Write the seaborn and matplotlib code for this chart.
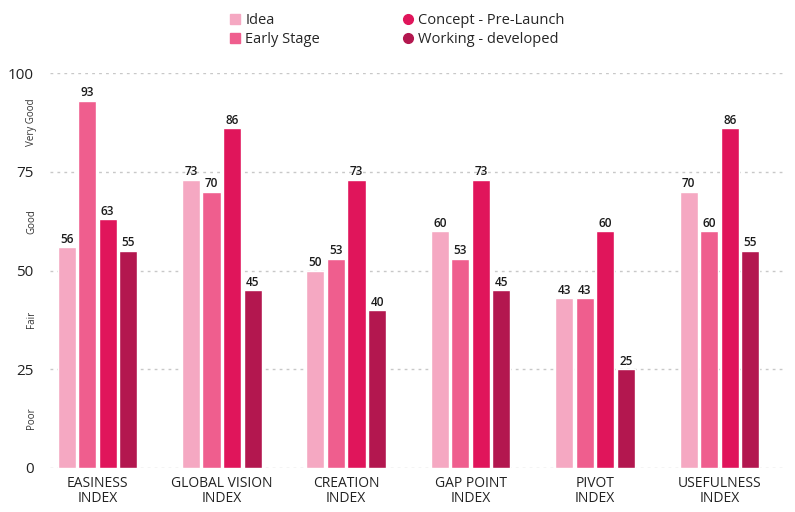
import pandas as pd
import seaborn as sns
import matplotlib.pyplot as plt
from matplotlib.lines import Line2D

categories = ["EASINESS\nINDEX", "GLOBAL VISION\nINDEX", "CREATION\nINDEX",
              "GAP POINT\nINDEX", "PIVOT\nINDEX", "USEFULNESS\nINDEX"]
stages = ["Idea", "Early Stage", "Concept - Pre-Launch", "Working - developed"]
idea = [56, 73, 50, 60, 43, 70]
early_stage = [93, 70, 53, 53, 43, 60]
concept = [63, 86, 73, 73, 60, 86]
working = [55, 45, 40, 45, 25, 55]
ratings = ["Poor", "Fair", "Good", "Very Good"]
colors = ["#F5A8C2", "#EF5E8E", "#E0155B", "#B3174F"]

rows = []
for stage, vals in zip(stages, [idea, early_stage, concept, working]):
    for cat, v in zip(categories, vals):
        rows.append({"Index": cat, "Stage": stage, "Score": v})
df = pd.DataFrame(rows)

sns.set_style("white")
plt.rcParams["font.family"] = ["Open Sans", "DejaVu Sans"]

fig = plt.figure(figsize=(7.95, 5.12), dpi=100)
ax = fig.add_axes([0.063, 0.086, 0.925, 0.771])

sns.barplot(data=df, x="Index", y="Score", hue="Stage", palette=colors,
            width=0.66, gap=0.12, legend=False, ax=ax, saturation=1)

for cont in ax.containers:
    ax.bar_label(cont, fontsize=8.5, color="#1a1a1a", padding=1,
                 fontweight="semibold")

ax.set_ylim(0, 100)
ax.set_xlim(-0.38, 5.53)
ax.set_yticks([0, 25, 50, 75, 100])
ax.tick_params(axis="y", labelsize=11, pad=12, length=0, labelcolor="#222222")
ax.tick_params(axis="x", labelsize=10, length=0, pad=6, labelcolor="#222222")
for t in ax.get_xticklabels():
    t.set_linespacing(1.0)
ax.set_xlabel("")
ax.set_ylabel("")
for s in ax.spines.values():
    s.set_visible(False)
ax.yaxis.grid(True, linestyle=(0, (2, 3)), color="#C8C8C8", linewidth=1)
ax.set_axisbelow(True)

for i, r in enumerate(ratings):
    ax.text(-0.53, 12.5 + 25 * i, r, rotation=90, fontsize=7, color="#333333",
            ha="center", va="center", transform=ax.transData, clip_on=False)

handles = [Line2D([], [], marker=m, linestyle="", color=c, markersize=7)
           for m, c in zip(["s", "s", "o", "o"], colors)]
fig.legend(handles, stages, loc="upper left", bbox_to_anchor=(0.27, 1.0),
           ncol=2, frameon=False, fontsize=10.5, handletextpad=0.2,
           columnspacing=5.5, labelspacing=0.25, handlelength=1.0)

fig.savefig("out.png", dpi=100)
